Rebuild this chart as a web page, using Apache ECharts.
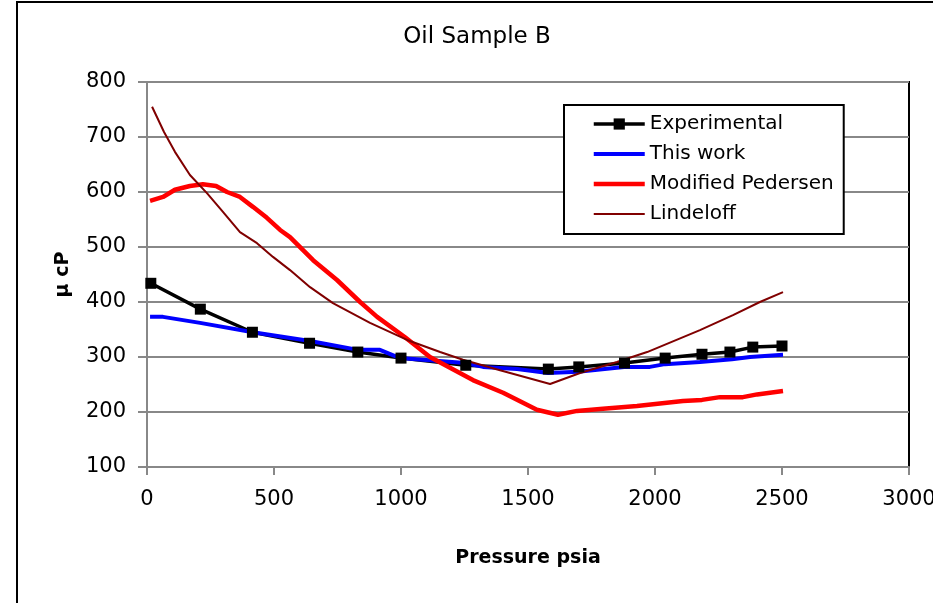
<!DOCTYPE html>
<html>
<head>
<meta charset="utf-8">
<title>Oil Sample B</title>
<script src="https://cdn.jsdelivr.net/npm/echarts@6/dist/echarts.min.js"></script>
<style>
  html, body { margin: 0; padding: 0; background: #fff; }
  #chart { width: 933px; height: 603px; }
</style>
</head>
<body>
<div id="chart"></div>
<script>
// Viscosity (µcP) versus pressure (psia) for oil sample B
const expPressure  = [15, 210, 415, 640, 830, 1000, 1255, 1580, 1700, 1880, 2040, 2185, 2295, 2385, 2500];
const expViscosity = [434, 387, 345, 325, 309, 298, 285, 278, 282, 289, 298, 305, 309, 318, 320];

const thisWorkPressure  = [12, 63, 209, 417, 642, 831, 917, 996, 1252, 1323, 1457, 1579, 1697, 1878, 1980, 2039, 2177, 2303, 2374, 2504];
const thisWorkViscosity = [373, 373, 362, 345, 329, 313, 313, 298, 289, 282, 278, 271, 273, 282, 282, 287, 291, 296, 300, 304];

const pedersenPressure  = [12, 63, 110, 169, 220, 272, 315, 366, 417, 472, 524, 563, 654, 748, 839, 906, 1016, 1114, 1283, 1402, 1535, 1618, 1693, 1795, 1929, 2110, 2185, 2256, 2346, 2402, 2504];
const pedersenViscosity = [584, 591, 604, 611, 614, 611, 600, 591, 573, 553, 531, 518, 476, 440, 400, 373, 336, 300, 258, 235, 204, 195, 202, 206, 211, 220, 222, 227, 227, 232, 238];

const lindeloffPressure  = [20, 67, 110, 169, 236, 299, 366, 433, 496, 563, 642, 732, 878, 1024, 1154, 1244, 1390, 1587, 1705, 1850, 1969, 2177, 2307, 2413, 2504];
const lindeloffViscosity = [755, 709, 673, 631, 598, 564, 527, 507, 482, 458, 427, 398, 362, 331, 309, 295, 276, 251, 271, 291, 309, 349, 376, 400, 418];

const xTicks = { min: 0, max: 3000, step: 500 };
const yTicks = { min: 100, max: 800, step: 100 };

const zip = (xs, ys) => xs.map((x, i) => [x, ys[i]]);

const FONT = 'DejaVu Sans';
const GRID_GREY = '#888888';

// plain horizontal bar used as a legend key for the line-only series
const bar = (h) => 'path://M0,0H51V' + h + 'H0Z';

const chart = echarts.init(document.getElementById('chart'), null, { renderer: 'canvas' });

chart.setOption({
  animation: false,
  backgroundColor: '#ffffff',
  textStyle: { fontFamily: FONT, color: '#000' },
  graphic: [
    {
      type: 'rect',
      silent: true,
      shape: { x: 17, y: 2, width: 1000, height: 700 },
      style: { fill: 'none', stroke: '#000', lineWidth: 2 },
      z: -1
    },
    {
      type: 'text',
      x: 477,
      y: 37,
      style: {
        text: 'Oil Sample B',
        fontFamily: FONT,
        fontSize: 23,
        fill: '#000',
        textAlign: 'center',
        textVerticalAlign: 'middle'
      }
    }
  ],
  grid: {
    left: 147,
    top: 82,
    right: 24,
    bottom: 136,
    outerBoundsMode: 'none',
    show: true,
    borderColor: '#000',
    borderWidth: 2,
    backgroundColor: 'transparent'
  },
  legend: {
    orient: 'vertical',
    left: 564,
    top: 105,
    padding: [9, 10, 10, 28],
    itemWidth: 51,
    itemHeight: 14,
    itemGap: 10,
    borderColor: '#000',
    borderWidth: 2,
    backgroundColor: '#fff',
    textStyle: { fontFamily: FONT, fontSize: 20, color: '#000' },
    data: [
      { name: 'Experimental', lineStyle: { width: 3.5 } },
      { name: 'This work', icon: bar(4) },
      { name: 'Modified Pedersen', icon: bar(4.5) },
      { name: 'Lindeloff', icon: bar(2) }
    ]
  },
  xAxis: {
    type: 'value',
    min: xTicks.min,
    max: xTicks.max,
    interval: xTicks.step,
    name: 'Pressure psia',
    nameLocation: 'middle',
    nameGap: 82,
    nameTextStyle: { fontFamily: FONT, fontSize: 19, fontWeight: 'bold', color: '#000' },
    axisLine: { show: true, onZero: false, lineStyle: { color: GRID_GREY, width: 2 } },
    axisTick: { show: true, inside: false, length: 8, lineStyle: { color: GRID_GREY, width: 2 } },
    axisLabel: {
      margin: 22,
      fontFamily: FONT,
      fontSize: 21,
      color: '#000',
      formatter: (v) => String(v)
    },
    splitLine: { show: false }
  },
  yAxis: {
    type: 'value',
    min: yTicks.min,
    max: yTicks.max,
    interval: yTicks.step,
    name: 'µ cP',
    nameLocation: 'middle',
    nameRotate: 90,
    nameGap: 74,
    nameTextStyle: { fontFamily: FONT, fontSize: 19, fontWeight: 'bold', color: '#000' },
    axisLine: { show: true, onZero: false, lineStyle: { color: GRID_GREY, width: 2 } },
    axisTick: { show: true, inside: false, length: 9, lineStyle: { color: GRID_GREY, width: 2 } },
    axisLabel: {
      margin: 21,
      fontFamily: FONT,
      fontSize: 21,
      color: '#000',
      formatter: (v) => String(v)
    },
    splitLine: { show: true, lineStyle: { color: GRID_GREY, width: 2 } }
  },
  series: [
    {
      name: 'Experimental',
      type: 'line',
      z: 3,
      data: zip(expPressure, expViscosity),
      symbol: 'rect',
      symbolSize: 11,
      showAllSymbol: true,
      color: '#000000',
      itemStyle: { color: '#000000' },
      lineStyle: { color: '#000000', width: 3.5 }
    },
    {
      name: 'This work',
      type: 'line',
      data: zip(thisWorkPressure, thisWorkViscosity),
      showSymbol: false,
      symbol: 'none',
      color: '#0000ff',
      lineStyle: { color: '#0000ff', width: 4 }
    },
    {
      name: 'Modified Pedersen',
      type: 'line',
      data: zip(pedersenPressure, pedersenViscosity),
      showSymbol: false,
      symbol: 'none',
      color: '#ff0000',
      lineStyle: { color: '#ff0000', width: 4.5 }
    },
    {
      name: 'Lindeloff',
      type: 'line',
      data: zip(lindeloffPressure, lindeloffViscosity),
      showSymbol: false,
      symbol: 'none',
      color: '#800000',
      lineStyle: { color: '#800000', width: 2 }
    }
  ]
});
</script>
</body>
</html>
